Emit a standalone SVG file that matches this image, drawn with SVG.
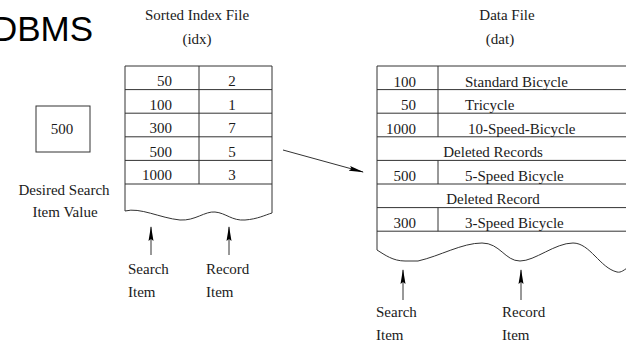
<svg xmlns="http://www.w3.org/2000/svg" width="626" height="343" viewBox="0 0 626 343">
<style>
.t{font-family:"Liberation Serif","Times New Roman",serif;font-size:15px;fill:#1a1a1a}
.m{text-anchor:middle}
.e{text-anchor:end}
.ln{stroke:#333;stroke-width:1;fill:none}
.big{font-family:"Liberation Sans",Arial,sans-serif;font-size:35px;fill:#000}
</style>
<defs>
<marker id="ah" markerUnits="userSpaceOnUse" markerWidth="15" markerHeight="6" refX="14" refY="3" orient="auto">
<path d="M0,0.5 L15,3 L0,5.5 L2,3 z" fill="#000"/>
</marker>
</defs>
<rect width="626" height="343" fill="#fff"/>
<g id="title">
<text class="big" x="93" y="41" text-anchor="end">DBMS</text>
</g>
<g id="index-file">
<text class="t m" x="197" y="20">Sorted Index File</text>
<text class="t m" x="197" y="44">(idx)</text>
<path class="ln" d="M125,211 V66 H272 V213 M125,89.6 H272 M125,113.2 H272 M125,136.8 H272 M125,160.4 H272 M125,184 H272 M199,66 V184"/>
<path class="ln" d="M125,211 C140,207 160,218 180,220 C195,221 205,211 215,212 C226,213 232,221 245,220 C258,219 265,215 272,213"/>
<text class="t e" x="172" y="86">50</text><text class="t m" x="232" y="86">2</text>
<text class="t e" x="172" y="109.5">100</text><text class="t m" x="232" y="109.5">1</text>
<text class="t e" x="172" y="133">300</text><text class="t m" x="232" y="133">7</text>
<text class="t e" x="172" y="156.5">500</text><text class="t m" x="232" y="156.5">5</text>
<text class="t e" x="172" y="180">1000</text><text class="t m" x="232" y="180">3</text>
<text class="t" x="128" y="274">Search</text>
<text class="t" x="128" y="297">Item</text>
<text class="t" x="206" y="274">Record</text>
<text class="t" x="206" y="297">Item</text>
</g>
<g id="search-value">
<rect class="ln" x="36" y="106" width="54" height="46"/>
<text class="t m" x="62" y="134">500</text>
<text class="t m" x="64" y="195">Desired Search</text>
<text class="t m" x="65" y="217">Item Value</text>
</g>
<g id="data-file">
<text class="t m" x="507" y="20">Data File</text>
<text class="t m" x="500" y="44">(dat)</text>
<path class="ln" d="M377,250 V66 H630 M377,89.6 H630 M377,113.2 H630 M377,136.8 H630 M377,160.4 H630 M377,184 H630 M377,207.6 H630 M377,231.2 H630 M438,66 V136.8 M438,160.4 V184 M438,207.6 V231.2"/>
<path class="ln" d="M377,250 C385,255 393,261 405,261 L418,261 C440,256 462,243 482,243 C500,243 505,261 520,261 C535,261 555,243 573,243 C590,243 600,268 617,272 C621,273 624,270 630,266"/>
<text class="t e" x="416" y="86.5">100</text><text class="t" x="465" y="86.5">Standard Bicycle</text>
<text class="t e" x="416" y="110">50</text><text class="t" x="465" y="110">Tricycle</text>
<text class="t e" x="416" y="133.5">1000</text><text class="t" x="468" y="133.5">10-Speed-Bicycle</text>
<text class="t m" x="493" y="157">Deleted Records</text>
<text class="t e" x="416" y="180.5">500</text><text class="t" x="465" y="180.5">5-Speed Bicycle</text>
<text class="t m" x="493" y="203.5">Deleted Record</text>
<text class="t e" x="416" y="227.5">300</text><text class="t" x="465" y="227.5">3-Speed Bicycle</text>
<text class="t" x="376" y="317">Search</text>
<text class="t" x="376" y="340">Item</text>
<text class="t" x="502" y="317">Record</text>
<text class="t" x="502" y="340">Item</text>
</g>
<g id="connectors">
<line class="ln" x1="283" y1="150" x2="363" y2="172" marker-end="url(#ah)"/>
<line class="ln" x1="151" y1="255" x2="151" y2="227" marker-end="url(#ah)"/>
<line class="ln" x1="229" y1="255" x2="229" y2="227" marker-end="url(#ah)"/>
<line class="ln" x1="403" y1="300" x2="403" y2="270" marker-end="url(#ah)"/>
<line class="ln" x1="521" y1="300" x2="521" y2="270" marker-end="url(#ah)"/>
</g>
</svg>
